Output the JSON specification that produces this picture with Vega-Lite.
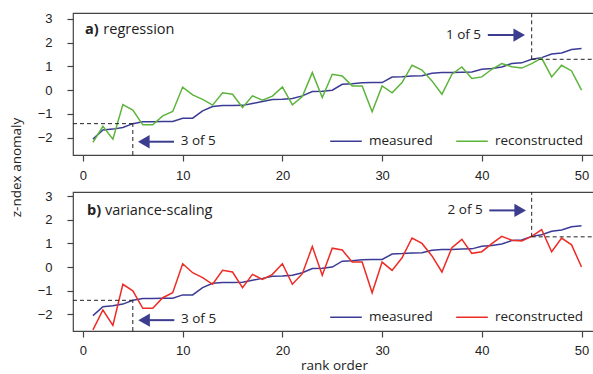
{
  "$schema": "https://vega.github.io/schema/vega-lite/v6.json",
  "padding": {"left": 8, "top": 11, "right": 0, "bottom": 0},
  "spacing": 37,
  "bounds": "flush",
  "config": {
    "font": "Open Sans",
    "view": {"stroke": "#444", "strokeWidth": 1.2},
    "axis": {"grid": false, "domain": false, "tickColor": "#444", "tickSize": 6, "tickWidth": 1.2,
      "labelFont": "Liberation Sans", "labelFontSize": 13, "labelColor": "#222",
      "titleFont": "Open Sans", "titleFontSize": 13.5, "titleFontWeight": "normal", "titleColor": "#222"},
    "legend": {"labelFont": "Open Sans", "labelFontSize": 13.5, "labelColor": "#222"}
  },
  "datasets": {
    "a": [
      {"rank": 1, "measured": -2.06, "reconstructed": -2.2},
      {"rank": 2, "measured": -1.68, "reconstructed": -1.52},
      {"rank": 3, "measured": -1.64, "reconstructed": -2.06},
      {"rank": 4, "measured": -1.57, "reconstructed": -0.61},
      {"rank": 5, "measured": -1.41, "reconstructed": -0.84},
      {"rank": 6, "measured": -1.33, "reconstructed": -1.46},
      {"rank": 7, "measured": -1.33, "reconstructed": -1.46},
      {"rank": 8, "measured": -1.32, "reconstructed": -1.08},
      {"rank": 9, "measured": -1.32, "reconstructed": -0.9},
      {"rank": 10, "measured": -1.18, "reconstructed": 0.13},
      {"rank": 11, "measured": -1.18, "reconstructed": -0.2},
      {"rank": 12, "measured": -0.87, "reconstructed": -0.39},
      {"rank": 13, "measured": -0.69, "reconstructed": -0.63},
      {"rank": 14, "measured": -0.65, "reconstructed": -0.11},
      {"rank": 15, "measured": -0.65, "reconstructed": -0.17},
      {"rank": 16, "measured": -0.64, "reconstructed": -0.73},
      {"rank": 17, "measured": -0.56, "reconstructed": -0.24},
      {"rank": 18, "measured": -0.48, "reconstructed": -0.42},
      {"rank": 19, "measured": -0.39, "reconstructed": -0.25},
      {"rank": 20, "measured": -0.38, "reconstructed": 0.14},
      {"rank": 21, "measured": -0.35, "reconstructed": -0.62},
      {"rank": 22, "measured": -0.24, "reconstructed": -0.27},
      {"rank": 23, "measured": -0.06, "reconstructed": 0.74},
      {"rank": 24, "measured": -0.05, "reconstructed": -0.31},
      {"rank": 25, "measured": 0.0, "reconstructed": 0.67},
      {"rank": 26, "measured": 0.25, "reconstructed": 0.6},
      {"rank": 27, "measured": 0.27, "reconstructed": 0.18},
      {"rank": 28, "measured": 0.31, "reconstructed": 0.18},
      {"rank": 29, "measured": 0.32, "reconstructed": -0.91},
      {"rank": 30, "measured": 0.32, "reconstructed": 0.18},
      {"rank": 31, "measured": 0.55, "reconstructed": -0.11},
      {"rank": 32, "measured": 0.57, "reconstructed": 0.32},
      {"rank": 33, "measured": 0.6, "reconstructed": 1.05},
      {"rank": 34, "measured": 0.61, "reconstructed": 0.85},
      {"rank": 35, "measured": 0.71, "reconstructed": 0.39},
      {"rank": 36, "measured": 0.74, "reconstructed": -0.17},
      {"rank": 37, "measured": 0.74, "reconstructed": 0.67},
      {"rank": 38, "measured": 0.76, "reconstructed": 0.98},
      {"rank": 39, "measured": 0.77, "reconstructed": 0.49},
      {"rank": 40, "measured": 0.88, "reconstructed": 0.56},
      {"rank": 41, "measured": 0.91, "reconstructed": 0.88},
      {"rank": 42, "measured": 0.98, "reconstructed": 1.12},
      {"rank": 43, "measured": 1.12, "reconstructed": 0.99},
      {"rank": 44, "measured": 1.15, "reconstructed": 0.93},
      {"rank": 45, "measured": 1.3, "reconstructed": 1.12},
      {"rank": 46, "measured": 1.37, "reconstructed": 1.35},
      {"rank": 47, "measured": 1.52, "reconstructed": 0.56},
      {"rank": 48, "measured": 1.57, "reconstructed": 1.05},
      {"rank": 49, "measured": 1.71, "reconstructed": 0.81},
      {"rank": 50, "measured": 1.75, "reconstructed": 0.0}
    ],
    "b": [
      {"rank": 1, "measured": -2.06, "reconstructed": -2.66},
      {"rank": 2, "measured": -1.68, "reconstructed": -1.82},
      {"rank": 3, "measured": -1.64, "reconstructed": -2.47},
      {"rank": 4, "measured": -1.57, "reconstructed": -0.73},
      {"rank": 5, "measured": -1.41, "reconstructed": -1.01},
      {"rank": 6, "measured": -1.33, "reconstructed": -1.75},
      {"rank": 7, "measured": -1.33, "reconstructed": -1.75},
      {"rank": 8, "measured": -1.32, "reconstructed": -1.3},
      {"rank": 9, "measured": -1.32, "reconstructed": -1.09},
      {"rank": 10, "measured": -1.18, "reconstructed": 0.14},
      {"rank": 11, "measured": -1.18, "reconstructed": -0.24},
      {"rank": 12, "measured": -0.87, "reconstructed": -0.45},
      {"rank": 13, "measured": -0.69, "reconstructed": -0.73},
      {"rank": 14, "measured": -0.65, "reconstructed": -0.14},
      {"rank": 15, "measured": -0.65, "reconstructed": -0.21},
      {"rank": 16, "measured": -0.64, "reconstructed": -0.87},
      {"rank": 17, "measured": -0.56, "reconstructed": -0.31},
      {"rank": 18, "measured": -0.48, "reconstructed": -0.52},
      {"rank": 19, "measured": -0.39, "reconstructed": -0.31},
      {"rank": 20, "measured": -0.38, "reconstructed": 0.14},
      {"rank": 21, "measured": -0.35, "reconstructed": -0.73},
      {"rank": 22, "measured": -0.24, "reconstructed": -0.28},
      {"rank": 23, "measured": -0.06, "reconstructed": 0.87},
      {"rank": 24, "measured": -0.05, "reconstructed": -0.35},
      {"rank": 25, "measured": 0.0, "reconstructed": 0.8},
      {"rank": 26, "measured": 0.25, "reconstructed": 0.72},
      {"rank": 27, "measured": 0.27, "reconstructed": 0.21},
      {"rank": 28, "measured": 0.31, "reconstructed": 0.21},
      {"rank": 29, "measured": 0.32, "reconstructed": -1.09},
      {"rank": 30, "measured": 0.32, "reconstructed": 0.21},
      {"rank": 31, "measured": 0.55, "reconstructed": -0.14},
      {"rank": 32, "measured": 0.57, "reconstructed": 0.39},
      {"rank": 33, "measured": 0.6, "reconstructed": 1.23},
      {"rank": 34, "measured": 0.61, "reconstructed": 1.0},
      {"rank": 35, "measured": 0.71, "reconstructed": 0.47},
      {"rank": 36, "measured": 0.74, "reconstructed": -0.21},
      {"rank": 37, "measured": 0.74, "reconstructed": 0.82},
      {"rank": 38, "measured": 0.76, "reconstructed": 1.17},
      {"rank": 39, "measured": 0.77, "reconstructed": 0.58},
      {"rank": 40, "measured": 0.88, "reconstructed": 0.65},
      {"rank": 41, "measured": 0.91, "reconstructed": 0.99},
      {"rank": 42, "measured": 0.98, "reconstructed": 1.3},
      {"rank": 43, "measured": 1.12, "reconstructed": 1.14},
      {"rank": 44, "measured": 1.15, "reconstructed": 1.1},
      {"rank": 45, "measured": 1.3, "reconstructed": 1.3},
      {"rank": 46, "measured": 1.37, "reconstructed": 1.59},
      {"rank": 47, "measured": 1.52, "reconstructed": 0.65},
      {"rank": 48, "measured": 1.57, "reconstructed": 1.23},
      {"rank": 49, "measured": 1.71, "reconstructed": 0.94},
      {"rank": 50, "measured": 1.75, "reconstructed": 0.0}
    ]
  },
  "resolve": {"scale": {"color": "independent"}, "legend": {"color": "independent"}},
  "vconcat": [
    {
      "width": 522, "height": 142,
      "encoding": {
        "x": {"field": "rank", "type": "quantitative", "scale": {"domain": [-1.0, 51.35], "nice": false, "zero": false},
          "axis": {"values": [0, 10, 20, 30, 40, 50], "labelPadding": 8, "title": null}},
        "y": {"field": "value", "type": "quantitative", "scale": {"domain": [-2.73, 3.25], "nice": false, "zero": false},
          "axis": {"values": [-2, -1, 0, 1, 2, 3], "labelPadding": 15, "title": "z-ndex anomaly", "titleX": -57, "titleY": 154, "titleAngle": -90, "titleAlign": "center", "titleBaseline": "middle"}}
      },
      "layer": [
        {
          "data": {"name": "a"},
          "transform": [{"fold": ["measured", "reconstructed"], "as": ["series", "value"]}],
          "mark": {"type": "line", "strokeWidth": 1.5},
          "encoding": {
            "color": {"field": "series", "type": "nominal",
              "scale": {"domain": ["measured", "reconstructed"], "range": ["#3b3b96", "#5db43c"]},
              "legend": {"orient": "none", "legendX": 256, "legendY": 111, "direction": "horizontal", "title": null, "symbolType": "stroke", "symbolSize": 1000, "symbolStrokeWidth": 1.5, "labelOffset": 6, "columnPadding": 20, "padding": 0}}
          }
        },
        {
          "data": {"values": [
            {"rank": -1, "rank2": 5, "value": -1.41, "value2": -1.41},
            {"rank": 5, "rank2": 5, "value": -2.73, "value2": -1.41},
            {"rank": 45, "rank2": 45, "value": 1.3, "value2": 3.25},
            {"rank": 45, "rank2": 51.35, "value": 1.3, "value2": 1.3}
          ]},
          "mark": {"type": "rule", "strokeDash": [4, 3], "color": "#222", "strokeWidth": 1},
          "encoding": {"x2": {"field": "rank2"}, "y2": {"field": "value2"}}
        },
        {
          "data": {"values": [
            {"rank": 6.1, "rank2": 9.13, "value": -2.17},
            {"rank": 40.6, "rank2": 43.75, "value": 2.32}
          ]},
          "mark": {"type": "rule", "color": "#3d3d90", "strokeWidth": 2},
          "encoding": {"x2": {"field": "rank2"}}
        },
        {
          "data": {"values": [{"rank": 6.1, "value": -2.17}]},
          "mark": {"type": "point", "shape": "triangle-left", "filled": true, "size": 180, "color": "#3d3d90", "opacity": 1}
        },
        {
          "data": {"values": [{"rank": 43.75, "value": 2.32}]},
          "mark": {"type": "point", "shape": "triangle-right", "filled": true, "size": 180, "color": "#3d3d90", "opacity": 1}
        },
        {
          "data": {"values": [{"rank": 9.8, "value": -2.12, "label": "3 of 5"}]},
          "mark": {"type": "text", "align": "left", "baseline": "middle", "font": "Open Sans", "fontSize": 13.5, "color": "#222"},
          "encoding": {"text": {"field": "label"}}
        },
        {
          "data": {"values": [{"rank": 39.92, "value": 2.32, "label": "1 of 5"}]},
          "mark": {"type": "text", "align": "right", "baseline": "middle", "font": "Open Sans", "fontSize": 13.5, "color": "#222"},
          "encoding": {"text": {"field": "label"}}
        },
        {
          "data": {"values": [{"rank": 0.2, "value": 2.35, "label": "a)"}]},
          "mark": {"type": "text", "align": "left", "baseline": "alphabetic", "font": "Open Sans", "fontSize": 14.5, "fontWeight": "bold", "color": "#222"},
          "encoding": {"text": {"field": "label"}}
        },
        {
          "data": {"values": [{"rank": 2.04, "value": 2.35, "label": "regression"}]},
          "mark": {"type": "text", "align": "left", "baseline": "alphabetic", "font": "Open Sans", "fontSize": 14.5, "color": "#222"},
          "encoding": {"text": {"field": "label"}}
        }
      ]
    },
    {
      "width": 522, "height": 139,
      "encoding": {
        "x": {"field": "rank", "type": "quantitative", "scale": {"domain": [-1.0, 51.35], "nice": false, "zero": false},
          "axis": {"values": [0, 10, 20, 30, 40, 50], "labelPadding": 7, "title": "rank order", "titlePadding": 1}},
        "y": {"field": "value", "type": "quantitative", "scale": {"domain": [-2.71, 3.18], "nice": false, "zero": false},
          "axis": {"values": [-2, -1, 0, 1, 2, 3], "labelPadding": 15, "title": null}}
      },
      "layer": [
        {
          "data": {"name": "b"},
          "transform": [{"fold": ["measured", "reconstructed"], "as": ["series", "value"]}],
          "mark": {"type": "line", "strokeWidth": 1.5},
          "encoding": {
            "color": {"field": "series", "type": "nominal",
              "scale": {"domain": ["measured", "reconstructed"], "range": ["#3b3b96", "#ee2b24"]},
              "legend": {"orient": "none", "legendX": 256, "legendY": 108, "direction": "horizontal", "title": null, "symbolType": "stroke", "symbolSize": 1000, "symbolStrokeWidth": 1.5, "labelOffset": 6, "columnPadding": 20, "padding": 0}}
          }
        },
        {
          "data": {"values": [
            {"rank": -1, "rank2": 5, "value": -1.41, "value2": -1.41},
            {"rank": 5, "rank2": 5, "value": -2.71, "value2": -1.41},
            {"rank": 45, "rank2": 45, "value": 1.28, "value2": 3.18},
            {"rank": 45, "rank2": 51.35, "value": 1.28, "value2": 1.28}
          ]},
          "mark": {"type": "rule", "strokeDash": [4, 3], "color": "#222", "strokeWidth": 1},
          "encoding": {"x2": {"field": "rank2"}, "y2": {"field": "value2"}}
        },
        {
          "data": {"values": [
            {"rank": 6.13, "rank2": 9.16, "value": -2.25},
            {"rank": 40.75, "rank2": 43.85, "value": 2.4}
          ]},
          "mark": {"type": "rule", "color": "#3d3d90", "strokeWidth": 2},
          "encoding": {"x2": {"field": "rank2"}}
        },
        {
          "data": {"values": [{"rank": 6.13, "value": -2.25}]},
          "mark": {"type": "point", "shape": "triangle-left", "filled": true, "size": 180, "color": "#3d3d90", "opacity": 1}
        },
        {
          "data": {"values": [{"rank": 43.85, "value": 2.4}]},
          "mark": {"type": "point", "shape": "triangle-right", "filled": true, "size": 180, "color": "#3d3d90", "opacity": 1}
        },
        {
          "data": {"values": [{"rank": 9.83, "value": -2.21, "label": "3 of 5"}]},
          "mark": {"type": "text", "align": "left", "baseline": "middle", "font": "Open Sans", "fontSize": 13.5, "color": "#222"},
          "encoding": {"text": {"field": "label"}}
        },
        {
          "data": {"values": [{"rank": 40.09, "value": 2.4, "label": "2 of 5"}]},
          "mark": {"type": "text", "align": "right", "baseline": "middle", "font": "Open Sans", "fontSize": 13.5, "color": "#222"},
          "encoding": {"text": {"field": "label"}}
        },
        {
          "data": {"values": [{"rank": 0.4, "value": 2.2, "label": "b)"}]},
          "mark": {"type": "text", "align": "left", "baseline": "alphabetic", "font": "Open Sans", "fontSize": 14.5, "fontWeight": "bold", "color": "#222"},
          "encoding": {"text": {"field": "label"}}
        },
        {
          "data": {"values": [{"rank": 2.2, "value": 2.2, "label": "variance-scaling"}]},
          "mark": {"type": "text", "align": "left", "baseline": "alphabetic", "font": "Open Sans", "fontSize": 14.5, "color": "#222"},
          "encoding": {"text": {"field": "label"}}
        }
      ]
    }
  ]
}
